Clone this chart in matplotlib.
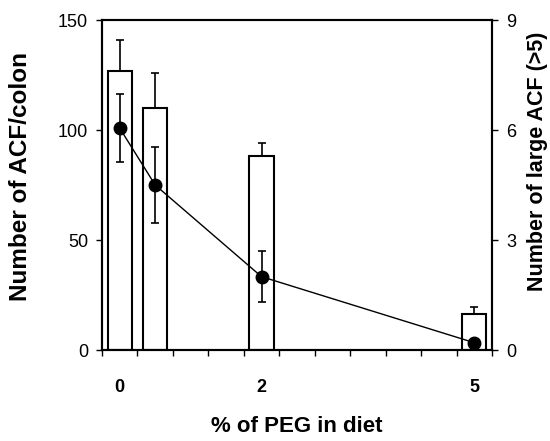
import numpy as np
import matplotlib
matplotlib.use("Agg")
import matplotlib.pyplot as plt
from matplotlib.ticker import FixedLocator, NullFormatter

plt.rcParams["font.family"] = ["Liberation Sans", "DejaVu Sans"]

# % PEG in diet
peg_dose = [0, 0.5, 2, 5]
# bars: total ACF per colon (left axis), upward SE only
acf_colon = [127, 110, 88, 16.5]
acf_colon_err = [14, 16, 6, 3]
# points: large ACF (>5) per colon (right axis)
large_acf = [6.05, 4.5, 2.0, 0.2]
large_acf_err = [0.92, 1.03, 0.7, 0.0]
dose_ticks = [0, 2, 5]
dose_tick_labels = ["0", "2", "5"]

fig = plt.figure(figsize=(5.5, 4.41), dpi=100)
ax = fig.add_axes([0.1855, 0.2063, 0.709, 0.7483])
ax2 = ax.twinx()

ax.bar(peg_dose, acf_colon, width=0.34, color="white", edgecolor="black",
       linewidth=1.5, zorder=2)
ax.errorbar(peg_dose, acf_colon, yerr=[np.zeros(len(acf_colon)), acf_colon_err],
            fmt="none", ecolor="black", elinewidth=1.2, capsize=3, capthick=1.2,
            zorder=3)

ax2.errorbar(peg_dose, large_acf, yerr=large_acf_err, fmt="o-", color="black",
             markersize=9, linewidth=1, elinewidth=1.2, capsize=3, capthick=1.2)

ax.set_xlim(-0.25, 5.25)
ax.set_ylim(0, 150)
ax2.set_ylim(0, 9)
ax.set_yticks([0, 50, 100, 150])
ax2.set_yticks([0, 3, 6, 9])

ax.xaxis.set_major_locator(FixedLocator(dose_ticks))
ax.set_xticklabels(dose_tick_labels, fontsize=13, fontweight="bold")
ax.tick_params(axis="x", which="major", length=0, pad=21)
ax.xaxis.set_minor_locator(FixedLocator(np.arange(-0.25, 5.3, 0.5)))
ax.xaxis.set_minor_formatter(NullFormatter())
ax.tick_params(axis="x", which="minor", length=4, width=1)

ax.tick_params(axis="y", labelsize=13, length=4, width=1, pad=6)
ax2.tick_params(axis="y", labelsize=13, length=4, width=1, pad=6)

for a in (ax, ax2):
    for s in a.spines.values():
        s.set_linewidth(1.5)

ax.set_xlabel("% of PEG in diet", fontsize=16, fontweight="bold")
ax.xaxis.set_label_coords(0.5, -0.2)
ax.set_ylabel("Number of ACF/colon", fontsize=17.5, fontweight="bold")
ax.yaxis.set_label_coords(-0.18, 0.527)
ax2.set_ylabel("Number of large ACF (>5)", fontsize=15.5, fontweight="bold",
               rotation=90)
ax2.yaxis.set_label_coords(1.09, 0.573)

fig.savefig("out.png", dpi=100)
